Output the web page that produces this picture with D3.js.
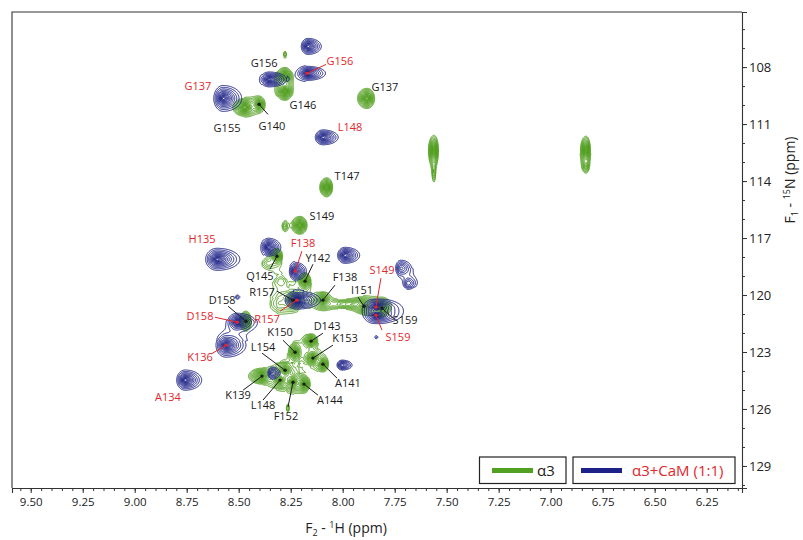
<!DOCTYPE html>
<html>
<head>
<meta charset="utf-8">
<script src="https://cdn.jsdelivr.net/npm/d3@7"></script>
<style>
  body { margin: 0; background: #fff; }
  svg { display: block; font-family: "Open Sans", sans-serif; }
</style>
</head>
<body>
<div id="chart"></div>
<script>
// axis ranges (ppm) and ticks
var hDomain = [9.59, 6.08];
var nDomain = [105.1, 130.16];
var hTicks = [9.5, 9.25, 9.0, 8.75, 8.5, 8.25, 8.0, 7.75, 7.5, 7.25, 7.0, 6.75, 6.5, 6.25];
var nTicks = [108, 111, 114, 117, 120, 123, 126, 129];

// alpha3 peaks: 1H ppm, 15N ppm, height, half-width of lowest contour (ppm)
var apoPeaks = [
  { id: "G156", h: 8.277, n: 108.49, a: 30, wh: 0.038, wn: 0.47 },
  { id: "G146", h: 8.277, n: 109.28, a: 30, wh: 0.038, wn: 0.47 },
  { id: "G155", h: 8.470, n: 110.12, a: 30, wh: 0.053, wn: 0.47 },
  { id: "G140", h: 8.402, n: 109.96, a: 15, wh: 0.029, wn: 0.37 },
  { id: "G137", h: 7.883, n: 109.65, a: 25, wh: 0.041, wn: 0.53 },
  { id: "T147", h: 8.076, n: 114.33, a: 25, wh: 0.031, wn: 0.50 },
  { id: "S149", h: 8.205, n: 116.33, a: 25, wh: 0.038, wn: 0.47 },
  { id: "",     h: 8.277, n: 116.38, a: 2,  wh: 0.010, wn: 0.21 },
  { id: "Q145", h: 8.316, n: 117.96, a: 15, wh: 0.029, wn: 0.42 },
  { id: "",     h: 8.359, n: 118.33, a: 1.5, wh: 0.020, wn: 0.18 },
  { id: "Y142", h: 8.181, n: 119.27, a: 20, wh: 0.031, wn: 0.45 },
  { id: "R157", h: 8.239, n: 120.27, a: 12, wh: 0.045, wn: 0.50 },
  { id: "F138", h: 8.095, n: 120.27, a: 20, wh: 0.038, wn: 0.42 },
  { id: "",     h: 7.955, n: 120.48, a: 3,  wh: 0.130, wn: 0.24 },
  { id: "I151", h: 7.898, n: 120.59, a: 12, wh: 0.034, wn: 0.37 },
  { id: "S159", h: 7.811, n: 120.69, a: 20, wh: 0.038, wn: 0.47 },
  { id: "D158", h: 8.465, n: 121.38, a: 20, wh: 0.029, wn: 0.53 },
  { id: "K150", h: 8.229, n: 123.01, a: 20, wh: 0.029, wn: 0.50 },
  { id: "D143", h: 8.152, n: 122.43, a: 20, wh: 0.036, wn: 0.39 },
  { id: "K153", h: 8.143, n: 123.32, a: 20, wh: 0.038, wn: 0.37 },
  { id: "A141", h: 8.095, n: 123.64, a: 20, wh: 0.029, wn: 0.37 },
  { id: "L154", h: 8.277, n: 123.96, a: 15, wh: 0.034, wn: 0.42 },
  { id: "K139", h: 8.388, n: 124.27, a: 20, wh: 0.058, wn: 0.42 },
  { id: "L148", h: 8.301, n: 124.48, a: 15, wh: 0.034, wn: 0.42 },
  { id: "F152", h: 8.239, n: 124.59, a: 20, wh: 0.034, wn: 0.47 },
  { id: "A144", h: 8.186, n: 124.69, a: 20, wh: 0.034, wn: 0.42 },
  { id: "",     h: 8.263, n: 125.95, a: 2,  wh: 0.007, wn: 0.21 },
  { id: "",     h: 7.561, n: 112.38, a: 25, wh: 0.024, wn: 0.79 },
  { id: "",     h: 7.561, n: 113.54, a: 2,  wh: 0.006, wn: 0.42 },
  { id: "",     h: 6.830, n: 112.38, a: 25, wh: 0.024, wn: 0.74 },
  { id: "",     h: 6.830, n: 113.22, a: 3,  wh: 0.012, wn: 0.26 },
  { id: "",     h: 8.277, n: 107.33, a: 2,  wh: 0.007, wn: 0.16 },
  { id: "",     h: 8.297, n: 119.22, a: 1.5, wh: 0.024, wn: 0.26 },
  { id: "",     h: 8.310, n: 120.45, a: 1.5, wh: 0.029, wn: 0.32 }
];

// alpha3 + CaM (1:1) peaks
var holoPeaks = [
  { id: "",     h: 8.167, n: 106.91, a: 20, wh: 0.048, wn: 0.42 },
  { id: "",     h: 8.354, n: 108.65, a: 25, wh: 0.063, wn: 0.39 },
  { id: "G156", h: 8.172, n: 108.33, a: 30, wh: 0.067, wn: 0.37 },
  { id: "G137", h: 8.575, n: 109.65, a: 50, wh: 0.067, wn: 0.68 },
  { id: "L148", h: 8.095, n: 111.70, a: 20, wh: 0.055, wn: 0.39 },
  { id: "H135", h: 8.604, n: 118.12, a: 50, wh: 0.082, wn: 0.58 },
  { id: "",     h: 8.359, n: 117.48, a: 25, wh: 0.046, wn: 0.47 },
  { id: "F138", h: 8.229, n: 118.75, a: 20, wh: 0.041, wn: 0.47 },
  { id: "",     h: 7.989, n: 117.91, a: 20, wh: 0.053, wn: 0.42 },
  { id: "R157", h: 8.220, n: 120.27, a: 60, wh: 0.085, wn: 0.47 },
  { id: "S149", h: 7.840, n: 120.64, a: 40, wh: 0.075, wn: 0.40 },
  { id: "S159", h: 7.840, n: 121.06, a: 40, wh: 0.075, wn: 0.40 },
  { id: "",     h: 7.720, n: 118.59, a: 5,  wh: 0.038, wn: 0.42 },
  { id: "",     h: 7.686, n: 119.38, a: 4,  wh: 0.029, wn: 0.32 },
  { id: "D158", h: 8.508, n: 121.43, a: 50, wh: 0.067, wn: 0.47 },
  { id: "K136", h: 8.561, n: 122.64, a: 50, wh: 0.072, wn: 0.63 },
  { id: "A134", h: 8.758, n: 124.48, a: 40, wh: 0.060, wn: 0.53 },
  { id: "",     h: 8.508, n: 120.11, a: 1.6, wh: 0.010, wn: 0.11 },
  { id: "",     h: 8.340, n: 124.11, a: 5,  wh: 0.029, wn: 0.32 },
  { id: "",     h: 8.003, n: 123.69, a: 8,  wh: 0.036, wn: 0.26 },
  { id: "",     h: 7.840, n: 122.22, a: 1.5, wh: 0.007, wn: 0.08 }
];

// assignments: label position, start of leader line, peak it points at
var apoLabels = [
  { t: "G156", h: 8.378, n: 107.81 },
  { t: "G146", h: 8.191, n: 110.01 },
  { t: "G137", h: 7.797, n: 109.07 },
  { t: "G155", h: 8.556, n: 111.22 },
  { t: "G140", h: 8.340, n: 111.12, lh: 8.359, ln: 110.49, p: "G140" },
  { t: "T147", h: 7.979, n: 113.75 },
  { t: "S149", h: 8.100, n: 115.85 },
  { t: "Q145", h: 8.398, n: 118.98, lh: 8.350, ln: 118.65, p: "Q145" },
  { t: "Y142", h: 8.119, n: 118.06, lh: 8.143, ln: 118.38, p: "Y142" },
  { t: "R157", h: 8.388, n: 119.84, lh: 8.316, ln: 119.80, p: "R157" },
  { t: "F138", h: 7.989, n: 119.06, lh: 8.037, ln: 119.48, p: "F138" },
  { t: "I151", h: 7.907, n: 119.75, lh: 7.926, ln: 120.11, p: "I151" },
  { t: "D158", h: 8.580, n: 120.27, lh: 8.551, ln: 120.59, p: "D158" },
  { t: "S159", h: 7.700, n: 121.32, lh: 7.758, ln: 121.22, p: "S159" },
  { t: "D143", h: 8.075, n: 121.64, lh: 8.095, ln: 122.01, p: "D143" },
  { t: "K150", h: 8.301, n: 121.96, lh: 8.287, ln: 122.38, p: "K150" },
  { t: "K153", h: 7.989, n: 122.27, lh: 8.047, ln: 122.64, p: "K153" },
  { t: "L154", h: 8.383, n: 122.74, lh: 8.388, ln: 123.06, p: "L154" },
  { t: "A141", h: 7.975, n: 124.64, lh: 8.027, ln: 124.38, p: "A141" },
  { t: "K139", h: 8.503, n: 125.27, lh: 8.479, ln: 125.01, p: "K139" },
  { t: "A144", h: 8.061, n: 125.53, lh: 8.119, ln: 125.27, p: "A144" },
  { t: "L148", h: 8.383, n: 125.80, lh: 8.383, ln: 125.53, p: "L148" },
  { t: "F152", h: 8.273, n: 126.37, lh: 8.263, ln: 125.90, p: "F152" }
];

var holoLabels = [
  { t: "G137", h: 8.696, n: 109.02 },
  { t: "G156", h: 8.013, n: 107.70, lh: 8.080, ln: 107.86, p: "G156" },
  { t: "L148", h: 7.965, n: 111.17 },
  { t: "H135", h: 8.676, n: 117.06 },
  { t: "F138", h: 8.191, n: 117.27, lh: 8.196, ln: 117.69, p: "F138" },
  { t: "S149", h: 7.811, n: 118.69, lh: 7.816, ln: 119.11, p: "S149" },
  { t: "R157", h: 8.364, n: 121.27, lh: 8.301, ln: 120.85, p: "R157" },
  { t: "D158", h: 8.686, n: 121.11, lh: 8.614, ln: 121.17, p: "D158" },
  { t: "S159", h: 7.734, n: 122.22, lh: 7.811, ln: 121.85, p: "S159" },
  { t: "K136", h: 8.686, n: 123.27, lh: 8.633, ln: 123.11, p: "K136" },
  { t: "A134", h: 8.840, n: 125.38 }
];

var green = "#52a020", blue = "#1d2188", red = "#e3262b", ink = "#1a1a1a";

var width = 803, height = 540;
var pLeft = 12, pTop = 12, pRight = 742, pBottom = 488;

var x = d3.scaleLinear().domain(hDomain).range([pLeft, pRight]);
var y = d3.scaleLinear().domain(nDomain).range([pTop, pBottom]);

var svg = d3.select("#chart").append("svg")
  .attr("width", width)
  .attr("height", height);

svg.append("clipPath").attr("id", "plot-clip")
  .append("rect")
  .attr("x", pLeft).attr("y", pTop)
  .attr("width", pRight - pLeft).attr("height", pBottom - pTop);

// spectrum as a grid of summed peaks, one value per pixel
var gw = pRight - pLeft, gh = pBottom - pTop;

function field(peaks, skew) {
  var vals = new Float64Array(gw * gh);
  peaks.forEach(function(p) {
    var cx = x(p.h) - pLeft - 0.5, cy = y(p.n) - pTop - 0.5;
    var q = Math.sqrt(p.a - 1);
    var sx = Math.abs(x(p.h + p.wh) - x(p.h)) / q;
    var sy = Math.abs(y(p.n + p.wn) - y(p.n)) / q;
    var sl = sx * 2 / (1 + skew), sr = sx * 2 * skew / (1 + skew);
    var reach = Math.sqrt(p.a / 0.25);
    var i0 = Math.max(0, Math.floor(cx - reach * sl)), i1 = Math.min(gw - 1, Math.ceil(cx + reach * sr));
    var j0 = Math.max(0, Math.floor(cy - reach * sy)), j1 = Math.min(gh - 1, Math.ceil(cy + reach * sy));
    for (var j = j0; j <= j1; j++) {
      var qy = (j - cy) / sy;
      for (var i = i0; i <= i1; i++) {
        var dx = i - cx;
        var qx = dx < 0 ? dx / sl : dx / sr;
        vals[j * gw + i] += p.a / (1 + qx * qx + qy * qy);
      }
    }
  });
  return vals;
}

function levels(step, count) {
  return d3.range(count).map(function(k) { return Math.pow(step, k); });
}

var path = d3.geoPath();
var spec = svg.append("g").attr("clip-path", "url(#plot-clip)");

function drawSpectrum(peaks, skew, thresholds, color, sw) {
  var contours = d3.contours().size([gw, gh]).thresholds(thresholds)(field(peaks, skew));
  spec.append("g")
    .attr("transform", "translate(" + pLeft + "," + pTop + ")")
    .selectAll("path")
    .data(contours)
    .enter().append("path")
    .attr("d", path)
    .attr("fill", "none")
    .attr("stroke", color)
    .attr("stroke-width", sw)
    .attr("stroke-linejoin", "round");
}

drawSpectrum(apoPeaks, 0.8, levels(1.22, 24), green, 1);
drawSpectrum(holoPeaks, 2.0, levels(1.35, 16), blue, 1);

// assignment labels, leader lines and dots
function drawLabels(labels, peaks, color) {
  var byId = {};
  peaks.forEach(function(p) { if (p.id) byId[p.id] = p; });
  var g = svg.append("g");
  labels.filter(function(d) { return d.p; }).forEach(function(d) {
    var pk = byId[d.p];
    g.append("line")
      .attr("x1", x(d.lh)).attr("y1", y(d.ln))
      .attr("x2", x(pk.h)).attr("y2", y(pk.n))
      .attr("stroke", color).attr("stroke-width", 1);
    g.append("circle")
      .attr("cx", x(pk.h)).attr("cy", y(pk.n)).attr("r", 1.7)
      .attr("fill", color);
  });
  g.selectAll("text")
    .data(labels)
    .enter().append("text")
    .attr("x", function(d) { return x(d.h); })
    .attr("y", function(d) { return y(d.n); })
    .attr("dy", "0.36em")
    .attr("text-anchor", "middle")
    .attr("font-size", "11px")
    .attr("fill", color)
    .text(function(d) { return d.t; });
}

drawLabels(apoLabels, apoPeaks, ink);
drawLabels(holoLabels, holoPeaks, red);

// frame and axes
svg.append("path")
  .attr("d", "M" + pRight + "," + pTop + "H" + pLeft + "V" + pBottom)
  .attr("fill", "none").attr("stroke", "#333").attr("stroke-width", 1.1);

var xMinor = d3.range(6.1, 9.591, 0.05).map(function(v) { return Math.round(v * 100) / 100; });

var gx = svg.append("g").attr("transform", "translate(0," + pBottom + ")");
gx.append("g").call(d3.axisBottom(x).tickValues(xMinor).tickSize(3).tickFormat(""))
  .call(function(s) { s.select(".domain").remove(); });
gx.append("g").call(d3.axisBottom(x)
  .tickValues(hTicks)
  .tickFormat(d3.format(".2f"))
  .tickSize(5)
  .tickPadding(5));
gx.selectAll("line").attr("stroke", "#333");
gx.selectAll(".domain").attr("stroke", "#333").attr("stroke-width", 1.1);
gx.selectAll("text").attr("font-size", "11.5px").attr("fill", "#222")
  .attr("font-family", "Open Sans, sans-serif");

var yMinor = d3.range(106, 131, 1);
var gy = svg.append("g").attr("transform", "translate(" + pRight + ",0)");
gy.append("g").call(d3.axisRight(y).tickValues(yMinor).tickSize(3).tickFormat(""))
  .call(function(s) { s.select(".domain").remove(); });
gy.append("g").call(d3.axisRight(y).tickValues(nTicks).tickSize(5).tickPadding(2));
gy.selectAll("line").attr("stroke", "#333");
gy.selectAll(".domain").attr("stroke", "#333").attr("stroke-width", 1.1);
gy.selectAll("text").attr("font-size", "13px").attr("fill", "#222")
  .attr("font-family", "Open Sans, sans-serif");

// axis titles
var xt = svg.append("text")
  .attr("x", 346).attr("y", 533)
  .attr("text-anchor", "middle")
  .attr("font-size", "14px").attr("fill", "#222");
xt.append("tspan").text("F");
xt.append("tspan").text("2").attr("font-size", "9px").attr("dy", "3");
xt.append("tspan").text(" - ").attr("dy", "-3");
xt.append("tspan").text("1").attr("font-size", "9px").attr("dy", "-5");
xt.append("tspan").text("H (ppm)").attr("dy", "5");

var yt = svg.append("text")
  .attr("transform", "translate(795,180) rotate(-90)")
  .attr("text-anchor", "middle")
  .attr("font-size", "14px").attr("fill", "#222");
yt.append("tspan").text("F");
yt.append("tspan").text("1").attr("font-size", "9px").attr("dy", "3");
yt.append("tspan").text(" - ").attr("dy", "-3");
yt.append("tspan").text("15").attr("font-size", "9px").attr("dy", "-5");
yt.append("tspan").text("N (ppm)").attr("dy", "5");

// legend
var series = [
  { name: "\u03b13", color: green, text: "#222", x: 479.5, w: 86.5, lx: 492, tx: 537 },
  { name: "\u03b13+CaM (1:1)", color: blue, text: red, x: 573, w: 162, lx: 581, tx: 632 }
];
var lg = svg.append("g");
series.forEach(function(s) {
  lg.append("rect")
    .attr("x", s.x).attr("y", 457).attr("width", s.w).attr("height", 26.5)
    .attr("fill", "#fff").attr("stroke", "#222").attr("stroke-width", 1.2);
  lg.append("line")
    .attr("x1", s.lx).attr("x2", s.lx + 41).attr("y1", 470.5).attr("y2", 470.5)
    .attr("stroke", s.color).attr("stroke-width", 5);
  lg.append("text")
    .attr("x", s.tx).attr("y", 470.5).attr("dy", "0.35em")
    .attr("font-size", "15px").attr("fill", s.text)
    .text(s.name);
});
</script>
</body>
</html>
